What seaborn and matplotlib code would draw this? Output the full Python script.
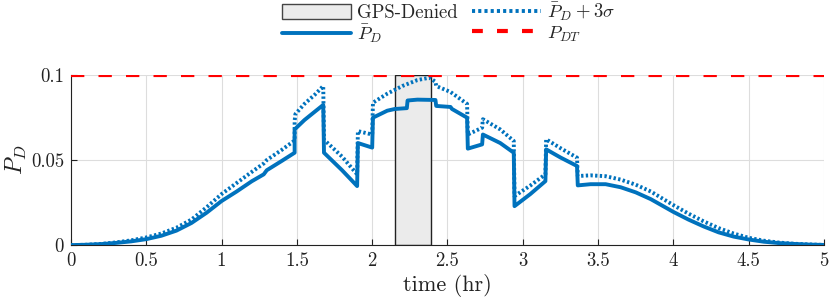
import pandas as pd
import matplotlib.pyplot as plt
import seaborn as sns
from matplotlib.patches import Patch
from matplotlib.lines import Line2D

# === Data ===
t_mean = [0.0, 0.1, 0.2, 0.3, 0.4, 0.5, 0.6, 0.7, 0.8, 0.9, 1.0, 1.1, 1.2, 1.28, 1.30,
          1.4, 1.485, 1.485, 1.55, 1.62, 1.675, 1.68, 1.80, 1.90, 1.905, 2.00, 2.005,
          2.10, 2.15, 2.23, 2.235, 2.30, 2.42, 2.425, 2.52, 2.53, 2.63, 2.635, 2.73,
          2.735, 2.85, 2.94, 2.945, 3.05, 3.15, 3.155, 3.25, 3.36, 3.365, 3.45, 3.55,
          3.65, 3.75, 3.85, 4.0, 4.1, 4.2, 4.3, 4.4, 4.5, 4.6, 4.7, 4.8, 4.9, 5.0]
p_mean = [0.0, 0.0002, 0.0006, 0.0013, 0.0022, 0.0035, 0.0055, 0.0085, 0.0130, 0.0190,
          0.0259, 0.0315, 0.0375, 0.0416, 0.0440, 0.0495, 0.0543, 0.0680, 0.0735, 0.0785,
          0.0824, 0.0543, 0.0440, 0.0347, 0.0600, 0.0573, 0.0749, 0.0790, 0.0800, 0.0805,
          0.0850, 0.0855, 0.0853, 0.0818, 0.0812, 0.0800, 0.0749, 0.0567, 0.0592, 0.0650,
          0.0600, 0.0543, 0.0229, 0.0300, 0.0376, 0.0563, 0.0515, 0.0465, 0.0351, 0.0358,
          0.0358, 0.0340, 0.0310, 0.0270, 0.0195, 0.0150, 0.0110, 0.0075, 0.0050, 0.0033,
          0.0020, 0.0012, 0.0007, 0.0003, 0.0001]

t_upper = [0.0, 0.1, 0.2, 0.3, 0.4, 0.5, 0.6, 0.7, 0.8, 0.9, 1.0, 1.1, 1.2, 1.28, 1.30,
           1.4, 1.485, 1.485, 1.49, 1.55, 1.62, 1.675, 1.68, 1.80, 1.90, 1.905, 2.00,
           2.005, 2.10, 2.20, 2.30, 2.38, 2.42, 2.425, 2.52, 2.63, 2.635, 2.73, 2.735,
           2.85, 2.94, 2.945, 3.05, 3.15, 3.155, 3.25, 3.36, 3.365, 3.45, 3.55, 3.65,
           3.75, 3.85, 4.0, 4.1, 4.2, 4.3, 4.4, 4.5, 4.6, 4.7, 4.8, 4.9, 5.0]
p_upper = [0.0, 0.0002, 0.0007, 0.0016, 0.0028, 0.0045, 0.0068, 0.0102, 0.0150, 0.0222,
           0.0300, 0.0365, 0.0430, 0.0480, 0.0500, 0.0560, 0.0615, 0.0730, 0.0770, 0.0830,
           0.0885, 0.0935, 0.0620, 0.0520, 0.0416, 0.0670, 0.0650, 0.0837, 0.0890, 0.0935,
           0.0970, 0.0984, 0.0960, 0.0935, 0.0900, 0.0830, 0.0650, 0.0690, 0.0740, 0.0680,
           0.0612, 0.0288, 0.0350, 0.0416, 0.0622, 0.0570, 0.0514, 0.0406, 0.0410, 0.0405,
           0.0385, 0.0355, 0.0315, 0.0235, 0.0185, 0.0140, 0.0100, 0.0068, 0.0043, 0.0026,
           0.0015, 0.0008, 0.0004, 0.0001]

p_threshold = 0.1
gps_denied = (2.15, 2.39)
x_ticks = [0, 0.5, 1, 1.5, 2, 2.5, 3, 3.5, 4, 4.5, 5]
x_tick_labels = ["0", "0.5", "1", "1.5", "2", "2.5", "3", "3.5", "4", "4.5", "5"]
y_ticks = [0, 0.05, 0.1]
y_tick_labels = ["0", "0.05", "0.1"]

df_mean = pd.DataFrame({"t": t_mean, "p": p_mean})
df_upper = pd.DataFrame({"t": t_upper, "p": p_upper})
df_thr = pd.DataFrame({"t": [0, 5], "p": [p_threshold, p_threshold]})

# === Style ===
sns.set_theme(style="whitegrid")
plt.rcParams["font.family"] = ["cmr10", "DejaVu Serif"]
plt.rcParams["mathtext.fontset"] = "cm"
plt.rcParams["axes.formatter.use_mathtext"] = True

blue = "#0072BD"
red = "#FF0000"
ink = "#222222"

fig = plt.figure(figsize=(8.3, 3.06), dpi=100)
ax = fig.add_axes([0.0855, 0.199, 0.9073, 0.556])

ax.axvspan(gps_denied[0], gps_denied[1], facecolor="#ebebeb", edgecolor=ink,
           linewidth=1.0, zorder=1)
sns.lineplot(data=df_upper, x="t", y="p", ax=ax, color=blue, linewidth=2.8,
             linestyle=(0, (0.6, 0.6)), estimator=None, sort=False, zorder=3)
sns.lineplot(data=df_mean, x="t", y="p", ax=ax, color=blue, linewidth=2.8,
             estimator=None, sort=False, zorder=4)
sns.lineplot(data=df_thr, x="t", y="p", ax=ax, color=red, linewidth=3.0,
             linestyle=(0, (3.2, 3.4)), estimator=None, sort=False, zorder=5)

ax.set_xlim(0, 5)
ax.set_ylim(0, 0.1)
ax.set_xticks(x_ticks)
ax.set_xticklabels(x_tick_labels)
ax.set_yticks(y_ticks)
ax.set_yticklabels(y_tick_labels)
ax.tick_params(axis="both", direction="in", length=4, width=0.8, color=ink,
               labelsize=13.5, pad=5, labelcolor=ink, bottom=True, left=True)
ax.grid(True, color="#dddddd", linewidth=0.8)
ax.set_facecolor("white")
for side in ["top", "right"]:
    ax.spines[side].set_visible(False)
for side in ["left", "bottom"]:
    ax.spines[side].set_color(ink)
    ax.spines[side].set_linewidth(0.8)

ax.set_xlabel("time (hr)", fontsize=16, color=ink, labelpad=3)
ax.set_ylabel(r"$P_D$", fontsize=17, color=ink, labelpad=1)

handles = [
    Patch(facecolor="#ebebeb", edgecolor="#444444", linewidth=1.0),
    Line2D([], [], color=blue, linewidth=2.8),
    Line2D([], [], color=blue, linewidth=2.8, linestyle=(0, (0.8, 0.8))),
    Line2D([], [], color=red, linewidth=3.0, linestyle=(0, (2.6, 3.4))),
]
labels = ["GPS-Denied", r"$\bar{P}_D$", r"$\bar{P}_D+3\sigma$", r"$P_{DT}$"]
fig.legend(handles, labels, ncol=2, loc="upper left", bbox_to_anchor=(282 / 830, 1 - 1 / 306),
           frameon=False, fontsize=13.5, handlelength=3.7, handleheight=0.9,
           columnspacing=0.75, labelspacing=0.05, handletextpad=0.3, borderpad=0,
           borderaxespad=0)

plt.savefig("out.png", dpi=100)
plt.close()
